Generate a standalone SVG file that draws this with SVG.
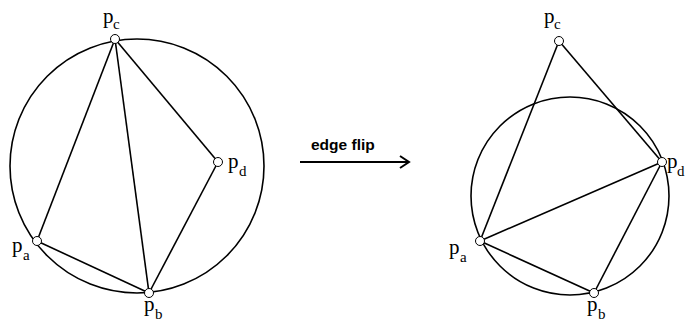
<svg xmlns="http://www.w3.org/2000/svg" width="689" height="325" viewBox="0 0 689 325">
<style>
.circ{fill:none;stroke:#000;stroke-width:1.6}
.e{stroke:#000;stroke-width:1.6;fill:none}
.v{fill:#fff;stroke:#000;stroke-width:1}
.p{font-family:"Liberation Serif",serif;font-size:21px;fill:#000}
.s{font-family:"Liberation Serif",serif;font-size:15px;fill:#000}
.lbl{font-family:"Liberation Sans",Arial,sans-serif;font-size:15.5px;font-weight:bold;fill:#000}
</style>
<rect width="689" height="325" fill="#fff"/>
<g id="left-circle"><circle class="circ" cx="137" cy="166" r="127"/></g>
<g id="right-circle"><circle class="circ" cx="570" cy="196" r="99"/></g>
<g id="connectors">
<line class="e" x1="115" y1="39" x2="37" y2="241"/>
<line class="e" x1="115" y1="39" x2="149" y2="293"/>
<line class="e" x1="115" y1="39" x2="218" y2="162"/>
<line class="e" x1="218" y1="162" x2="149" y2="293"/>
<line class="e" x1="37" y1="241" x2="149" y2="293"/>
<line class="e" x1="559" y1="41" x2="480" y2="241"/>
<line class="e" x1="559" y1="41" x2="662" y2="162"/>
<line class="e" x1="480" y1="241" x2="662" y2="162"/>
<line class="e" x1="662" y1="162" x2="594" y2="293"/>
<line class="e" x1="480" y1="241" x2="594" y2="293"/>
<line x1="300" y1="162" x2="408" y2="162" stroke="#000" stroke-width="2"/>
<polyline points="400,156 409,162 400,168" fill="none" stroke="#000" stroke-width="2"/>
</g>
<g id="flip-label"><text class="lbl" x="311" y="150">edge flip</text></g>
<g id="L-pc"><circle class="v" cx="115" cy="39" r="4.5"/><text class="p" x="103" y="23">p</text><text class="s" x="113" y="29">c</text></g>
<g id="L-pd"><circle class="v" cx="218" cy="162" r="4.5"/><text class="p" x="228" y="168">p</text><text class="s" x="239" y="176">d</text></g>
<g id="L-pa"><circle class="v" cx="37" cy="241" r="4.5"/><text class="p" x="12" y="252">p</text><text class="s" x="23" y="260">a</text></g>
<g id="L-pb"><circle class="v" cx="149" cy="293" r="4.5"/><text class="p" x="144" y="311">p</text><text class="s" x="155" y="319">b</text></g>
<g id="R-pc"><circle class="v" cx="559" cy="41" r="4.5"/><text class="p" x="544" y="23">p</text><text class="s" x="554" y="29">c</text></g>
<g id="R-pd"><circle class="v" cx="662" cy="162" r="4.5"/><text class="p" x="667" y="168">p</text><text class="s" x="677" y="176">d</text></g>
<g id="R-pa"><circle class="v" cx="480" cy="241" r="4.5"/><text class="p" x="449" y="254">p</text><text class="s" x="460" y="262">a</text></g>
<g id="R-pb"><circle class="v" cx="594" cy="293" r="4.5"/><text class="p" x="587" y="311">p</text><text class="s" x="598" y="319">b</text></g>
</svg>
